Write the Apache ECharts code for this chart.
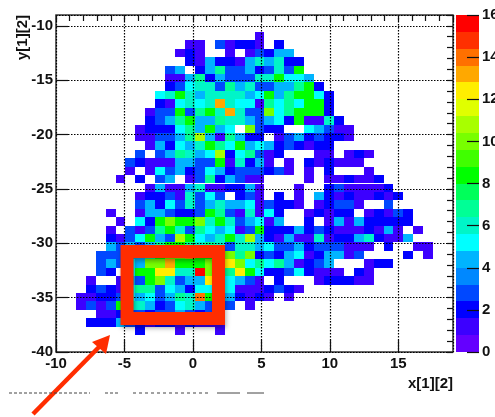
<!DOCTYPE html>
<html>
<head>
<meta charset="utf-8">
<style>html,body{margin:0;padding:0;background:#fff;overflow:hidden}#c{width:495px;height:417px;filter:blur(0.4px)}</style>
<script src="https://cdn.jsdelivr.net/npm/echarts@6/dist/echarts.min.js"></script>
</head>
<body>
<div id="c"></div>
<script>
// Histogram counts: top row first, each row holds 40 bins from x=-10 to x=19
const row02=[0,0,0,0,0,0,0,0,0,0, 0,0,0,0,0,0,0,0,0,0, 1,0,0,0,0,0,0,0,0,0, 0,0,0,0,0,0,0,0,0,0];
const row03=[0,0,0,0,0,0,0,0,0,0, 0,0,0,1,1,0,3,1,2,2, 1,0,2,0,0,0,0,0,0,0, 0,0,0,0,0,0,0,0,0,0];
const row04=[0,0,0,0,0,0,0,0,0,0, 0,0,1,2,1,0,0,1,0,1, 3,2,4,4,0,0,0,0,0,0, 0,0,0,0,0,0,0,0,0,0];
const row05=[0,0,0,0,0,0,0,0,0,0, 0,0,0,2,1,4,2,2,1,4, 6,4,6,2,2,0,0,0,0,0, 0,0,0,0,0,0,0,0,0,0];
const row06=[0,0,0,0,0,0,0,0,0,0, 0,3,4,0,2,4,7,3,3,4, 2,3,6,3,8,0,0,0,0,0, 0,0,0,0,0,0,0,0,0,0];
const row07=[0,0,0,0,0,0,0,0,0,0, 0,1,1,4,7,2,4,3,3,3, 6,6,8,5,5,4,0,0,0,0, 0,0,0,0,0,0,0,0,0,0];
const row08=[0,0,0,0,0,0,0,0,0,0, 0,2,3,5,6,6,3,7,4,6, 3,3,4,4,7,8,2,0,0,0, 0,0,0,0,0,0,0,0,0,0];
const row09=[0,0,0,0,0,0,0,0,0,0, 5,6,8,6,4,6,6,6,6,4, 5,8,4,7,8,8,5,2,0,0, 0,0,0,0,0,0,0,0,0,0];
const row10=[0,0,0,0,0,0,0,0,0,0, 2,1,5,6,5,6,13,6,5,5, 1,7,5,7,5,8,8,2,0,0, 0,0,0,0,0,0,0,0,0,0];
const row11=[0,0,0,0,0,0,0,0,0,1, 3,3,8,3,7,8,6,13,6,3, 3,10,5,7,8,8,8,2,0,0, 0,0,0,0,0,0,0,0,0,0];
const row12=[0,0,0,0,0,0,0,0,0,2, 3,4,7,8,4,4,7,6,6,4, 3,4,5,2,8,1,1,6,2,0, 0,0,0,0,0,0,0,0,0,0];
const row13=[0,0,0,0,0,0,0,0,1,2, 2,2,5,7,4,8,4,5,0,10, 3,2,2,0,0,5,4,3,1,1, 0,0,0,0,0,0,0,0,0,0];
const row14=[0,0,0,0,0,0,0,0,1,1, 3,3,4,7,11,4,1,7,4,2, 2,0,1,3,4,2,3,2,2,1, 0,0,0,0,0,0,0,0,0,0];
const row15=[0,0,0,0,0,0,0,0,0,1, 4,2,5,4,6,8,7,5,8,4, 5,4,2,3,2,1,2,2,0,0, 0,0,0,0,0,0,0,0,0,0];
const row16=[0,0,0,0,0,0,0,0,3,0, 3,4,7,6,4,5,11,2,5,7, 3,1,2,0,0,0,1,1,0,1, 2,1,0,0,0,0,0,0,0,0];
const row17=[0,0,0,0,0,0,0,3,2,1, 1,1,4,4,3,3,8,1,6,2, 4,1,0,1,0,2,1,2,1,1, 1,0,0,0,0,0,0,0,0,0];
const row18=[0,0,0,0,0,0,0,1,0,1, 5,3,4,2,3,5,4,2,3,3, 3,2,3,1,0,1,0,2,0,0, 0,1,0,0,0,0,0,0,0,0];
const row19=[0,0,0,0,0,0,1,0,2,0, 3,4,0,1,3,7,2,4,3,1, 1,0,0,0,0,1,0,1,1,2, 1,1,2,0,0,0,0,0,0,0];
const row20=[0,0,0,0,0,0,0,0,0,1, 4,1,1,4,6,1,1,2,2,4, 1,0,0,0,1,0,0,2,3,1, 1,1,1,2,0,0,0,0,0,0];
const row21=[0,0,0,0,0,0,0,0,1,2, 2,3,1,6,3,5,3,0,2,3, 1,0,2,0,1,0,4,2,1,2, 1,1,2,1,2,0,0,0,0,0];
const row22=[0,0,0,0,0,0,0,0,3,4, 2,5,3,6,3,4,6,4,4,5, 1,3,2,2,1,0,1,2,3,3, 1,0,0,3,0,0,0,0,0,0];
const row23=[0,0,0,0,0,1,0,0,1,4, 4,3,2,2,3,8,7,3,1,6, 1,5,2,0,0,1,2,1,2,2, 0,1,2,1,3,2,0,0,0,0];
const row24=[0,0,0,0,0,0,1,0,5,2, 8,10,8,8,10,6,8,6,3,4, 5,1,4,0,0,2,0,1,4,1, 4,2,2,2,2,2,0,0,0,0];
const row25=[0,0,0,0,0,1,0,3,1,3, 7,8,6,3,7,5,4,5,1,3, 8,2,2,2,4,2,3,2,1,1, 1,2,1,4,1,0,1,0,0,0];
const row26=[0,0,0,0,0,2,1,3,5,8, 4,3,11,8,5,4,6,8,6,11, 4,2,1,4,1,1,6,1,2,2, 4,6,2,1,1,4,0,0,0,0];
const row27=[0,0,0,0,0,4,3,4,3,4, 7,8,8,7,6,7,6,3,6,6, 4,5,3,3,4,2,3,3,3,1, 1,1,0,2,0,0,1,1,0,0];
const row28=[0,0,0,0,3,3,3,4,4,7, 8,10,10,13,8,8,8,10,7,10, 2,3,2,4,5,1,2,4,4,1, 3,0,0,0,0,2,0,1,0,0];
const row29=[0,0,0,0,3,4,3,5,4,10, 10,13,8,8,8,10,8,12,10,5, 7,5,7,4,1,2,3,4,0,0, 0,1,2,2,0,0,0,0,0,0];
const row30=[0,0,0,0,3,2,0,5,8,8, 12,12,6,6,16,10,7,7,12,8, 5,2,2,3,5,2,1,1,1,0, 2,1,0,0,0,0,0,0,0,0];
const row31=[0,0,0,1,0,0,1,4,3,8, 10,6,3,4,4,12,5,5,4,3, 1,0,2,0,0,0,1,2,2,2, 1,1,0,0,0,0,0,0,0,0];
const row32=[0,0,0,2,3,2,1,5,7,7, 3,5,4,2,5,5,3,5,1,1, 1,2,3,2,1,0,0,0,0,0, 0,0,0,0,0,0,0,0,0,0];
const row33=[0,0,1,1,2,2,3,5,4,5, 3,4,7,6,14,8,3,4,2,1, 2,1,0,1,0,0,0,0,0,0, 0,0,0,0,0,0,0,0,0,0];
const row34=[0,0,1,3,1,3,8,6,6,4, 2,3,5,6,4,3,2,3,0,1, 0,0,0,0,0,0,0,0,0,0, 0,0,0,0,0,0,0,0,0,0];
const row35=[0,0,0,0,1,1,2,3,3,2, 3,3,4,3,2,3,2,0,0,0, 0,0,0,0,0,0,0,0,0,0, 0,0,0,0,0,0,0,0,0,0];
const row36=[0,0,0,2,2,2,4,3,2,1, 2,2,1,2,1,1,1,0,0,0, 0,0,0,0,0,0,0,0,0,0, 0,0,0,0,0,0,0,0,0,0];
const row37=[0,0,0,0,0,0,0,0,2,0, 0,0,1,0,0,0,1,0,0,0, 0,0,0,0,0,0,0,0,0,0, 0,0,0,0,0,0,0,0,0,0];
const firstRow=2;
const rows=[row02,row03,row04,row05,row06,row07,row08,row09,row10,row11,row12,row13,row14,row15,row16,row17,row18,row19,row20,row21,row22,row23,row24,row25,row26,row27,row28,row29,row30,row31,row32,row33,row34,row35,row36,row37];

// Colour bands of the palette, lowest first
const bandColors=['#6400ff','#3c00ff','#0000ff','#0048ff','#0088ff','#00b4ff','#00ffff','#00f5c8','#00ff96','#00ff5a','#00ff00','#40ff00','#78ff00','#a8ff00','#e0ff00','#ffee00','#ffa800','#ff7000','#ff3000','#ff0000'];
const zMax=16, nBands=bandColors.length;

const xRange=[-10,19], yRange=[-40,-9], nBins=40;
const binW=(xRange[1]-xRange[0])/nBins, binH=(yRange[1]-yRange[0])/nBins;
const highlightBox=[-4.81,-30.75,1.87,-36.92];

const cells=[];
rows.forEach((r,i)=>r.forEach((v,c)=>{
  if(v>0) cells.push([xRange[0]+c*binW, yRange[1]-(firstRow+i+1)*binH, v]);
}));
const bands=bandColors.map((col,i)=>[0,i*zMax/nBands,i]);

const txt='#111', font='"Liberation Sans",Arial,sans-serif';
const labelStyle={color:txt,fontFamily:font,fontWeight:'bold',fontSize:15};
const chart=echarts.init(document.getElementById('c'),null,{renderer:'canvas',width:495,height:417});

function rectItem(p,api,x0,y0,x1,y1,color){
  const a=api.coord([x0,y1]), b=api.coord([x1,y0]);
  const l=Math.round(a[0]),t=Math.round(a[1]),r=Math.round(b[0]),bt=Math.round(b[1]);
  return {type:'rect',shape:{x:l,y:t,width:r-l,height:bt-t},style:{fill:color}};
}
const dotted={show:true,lineStyle:{color:'#000',type:[1.5,1.5],width:1.2}};
const axisLine={show:false,onZero:false};

chart.setOption({
  animation:false,
  backgroundColor:'#fff',
  grid:[
    {left:56,top:15,width:397,height:337,outerBoundsMode:'none',show:true,borderColor:'#333',borderWidth:1.5,backgroundColor:'#fff'},
    {left:456,top:15,width:23,height:337,outerBoundsMode:'none',show:false}
  ],
  xAxis:[
    {type:'value',gridIndex:0,min:xRange[0],max:xRange[1],interval:5,z:4,axisLine,
      axisTick:{show:true,inside:true,length:12,lineStyle:{color:txt,width:1.2}},
      splitLine:dotted,
      axisLabel:{...labelStyle,margin:4,showMaxLabel:false,hideOverlap:false}},
    {type:'value',gridIndex:0,min:xRange[0],max:xRange[1],interval:1,z:4,axisLine,
      axisTick:{show:true,inside:true,length:6,lineStyle:{color:txt,width:1.2}},
      splitLine:{show:false},axisLabel:{show:false}},
    {type:'value',gridIndex:1,min:0,max:1,axisLine,axisTick:{show:false},axisLabel:{show:false},splitLine:{show:false}}
  ],
  yAxis:[
    {type:'value',gridIndex:0,min:yRange[0],max:yRange[1],interval:5,z:4,axisLine,
      axisTick:{show:true,inside:true,length:12,lineStyle:{color:txt,width:1.2}},
      splitLine:dotted,
      axisLabel:{...labelStyle,margin:3,showMaxLabel:false,hideOverlap:false}},
    {type:'value',gridIndex:0,min:yRange[0],max:yRange[1],interval:1,z:4,axisLine,
      axisTick:{show:true,inside:true,length:6,lineStyle:{color:txt,width:1.2}},
      splitLine:{show:false},axisLabel:{show:false}},
    {type:'value',gridIndex:1,position:'right',min:0,max:zMax,interval:2,z:4,axisLine,
      axisTick:{show:true,inside:true,length:12,lineStyle:{color:txt,width:1.2}},
      splitLine:{show:false},
      axisLabel:{...labelStyle,margin:3,hideOverlap:false}}
  ],
  series:[
    {type:'custom',name:'counts',xAxisIndex:0,yAxisIndex:0,z:2,clip:true,data:cells,encode:{x:0,y:1},
      renderItem:(p,api)=>{
        const x=api.value(0),y=api.value(1),v=api.value(2);
        const band=Math.min(nBands-1,Math.floor(v/(zMax/nBands)+1e-9));
        return rectItem(p,api,x,y,x+binW,y+binH,bandColors[band]);
      }},
    {type:'custom',name:'palette',xAxisIndex:2,yAxisIndex:2,z:2,data:bands,encode:{x:0,y:1},
      renderItem:(p,api)=>rectItem(p,api,0,api.value(1),1,api.value(1)+zMax/nBands,bandColors[api.value(2)])},
    {type:'custom',name:'highlight',xAxisIndex:0,yAxisIndex:0,z:6,data:[highlightBox],encode:{x:[0,2],y:[1,3]},
      renderItem:(p,api)=>{
        const a=api.coord([api.value(0),api.value(1)]), b=api.coord([api.value(2),api.value(3)]);
        return {type:'rect',shape:{x:a[0],y:a[1],width:b[0]-a[0],height:b[1]-a[1]},
          style:{fill:null,stroke:'#ff2d00',lineWidth:13,shadowBlur:5,shadowColor:'rgba(0,0,0,0.35)',shadowOffsetX:1,shadowOffsetY:3}};
      }}
  ],
  graphic:[
    {type:'text',z:10,x:453,y:384,style:{text:'x[1][2]',fill:txt,font:'bold 15px '+font,textAlign:'right',textVerticalAlign:'middle'}},
    {type:'text',z:10,x:23,y:15,rotation:Math.PI/2,style:{text:'y[1][2]',fill:txt,font:'bold 15px '+font,textAlign:'right',textVerticalAlign:'middle'}},
    {type:'line',z:9,shape:{x1:33,y1:414,x2:100,y2:346},style:{stroke:'#ff2d00',lineWidth:4.5}},
    {type:'polygon',z:9,shape:{points:[[92,342],[110,335],[106,354]]},style:{fill:'#ff2d00'}},
    {type:'line',z:9,shape:{x1:9,y1:393,x2:90,y2:393},style:{stroke:'#444',lineWidth:1,lineDash:[3,2]}},
    {type:'line',z:9,shape:{x1:105,y1:393,x2:120,y2:393},style:{stroke:'#444',lineWidth:1,lineDash:[3,2]}},
    {type:'line',z:9,shape:{x1:133,y1:393,x2:210,y2:393},style:{stroke:'#444',lineWidth:1,lineDash:[3,3]}},
    {type:'line',z:9,shape:{x1:217,y1:393,x2:240,y2:393},style:{stroke:'#444',lineWidth:1}},
    {type:'line',z:9,shape:{x1:247,y1:393,x2:264,y2:393},style:{stroke:'#444',lineWidth:1}}
  ]
});
</script>
</body>
</html>
